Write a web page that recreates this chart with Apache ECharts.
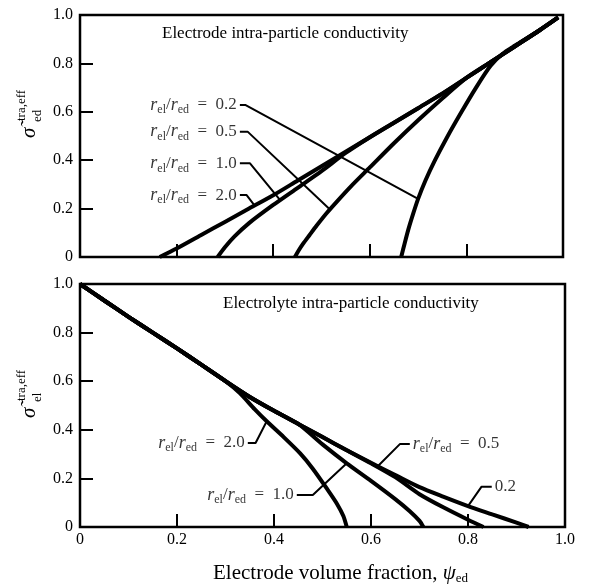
<!DOCTYPE html>
<html>
<head>
<meta charset="utf-8">
<script src="https://cdn.jsdelivr.net/npm/echarts@6/dist/echarts.min.js"></script>
<style>
  html, body { margin: 0; padding: 0; background: #fff; }
  #chart { width: 590px; height: 586px; }
</style>
</head>
<body>
<div id="chart"></div>
<script>
// x tick labels / y tick labels
const xTickLabels = ["0", "0.2", "0.4", "0.6", "0.8", "1.0"];
const yTickLabels = ["0", "0.2", "0.4", "0.6", "0.8", "1.0"];

// electrode intra-particle conductivity (top panel), [psi_ed, sigma]
const edCurve20 = [[0.165, 0], [0.2, 0.035], [0.25, 0.09], [0.3, 0.145], [0.35, 0.2], [0.4, 0.255],
  [0.45, 0.315], [0.5, 0.375], [0.55, 0.435], [0.6, 0.495], [0.65, 0.555], [0.7, 0.615],
  [0.75, 0.675], [0.8, 0.74], [0.85, 0.805], [0.9, 0.87], [0.95, 0.935], [0.99, 0.99]];
const edCurve10 = [[0.285, 0], [0.3, 0.04], [0.32, 0.085], [0.35, 0.14], [0.4, 0.215], [0.45, 0.285],
  [0.5, 0.355], [0.55, 0.43], [0.6, 0.495], [0.65, 0.555], [0.7, 0.615], [0.75, 0.675],
  [0.8, 0.74], [0.85, 0.805], [0.9, 0.87], [0.95, 0.935], [0.99, 0.99]];
const edCurve05 = [[0.445, 0], [0.452, 0.025], [0.462, 0.055], [0.475, 0.09], [0.49, 0.13], [0.51, 0.18],
  [0.53, 0.225], [0.56, 0.29], [0.6, 0.37], [0.65, 0.47], [0.7, 0.565], [0.75, 0.655],
  [0.8, 0.74], [0.85, 0.805], [0.9, 0.87], [0.95, 0.935], [0.99, 0.99]];
const edCurve02 = [[0.665, 0], [0.672, 0.055], [0.68, 0.115], [0.69, 0.18], [0.7, 0.24], [0.715, 0.315],
  [0.735, 0.4], [0.76, 0.495], [0.79, 0.6], [0.82, 0.7], [0.85, 0.79], [0.875, 0.84],
  [0.9, 0.873], [0.95, 0.935], [0.99, 0.99]];

// electrolyte intra-particle conductivity (bottom panel)
const elCurve02 = [[0, 1], [0.05, 0.932], [0.1, 0.865], [0.15, 0.8], [0.2, 0.735], [0.25, 0.668],
  [0.3, 0.6], [0.35, 0.535], [0.4, 0.478], [0.45, 0.424], [0.5, 0.37], [0.55, 0.316],
  [0.6, 0.264], [0.65, 0.214], [0.7, 0.164], [0.75, 0.124], [0.8, 0.086], [0.85, 0.052],
  [0.9, 0.018], [0.925, 0]];
const elCurve05 = [[0, 1], [0.05, 0.932], [0.1, 0.865], [0.15, 0.8], [0.2, 0.735], [0.25, 0.668],
  [0.3, 0.6], [0.35, 0.535], [0.4, 0.478], [0.45, 0.424], [0.5, 0.37], [0.55, 0.316],
  [0.6, 0.262], [0.65, 0.205], [0.7, 0.135], [0.75, 0.08], [0.8, 0.03], [0.832, 0]];
const elCurve10 = [[0, 1], [0.05, 0.932], [0.1, 0.865], [0.15, 0.8], [0.2, 0.735], [0.25, 0.668],
  [0.3, 0.6], [0.35, 0.535], [0.4, 0.478], [0.45, 0.424], [0.5, 0.34], [0.55, 0.262],
  [0.6, 0.19], [0.65, 0.115], [0.68, 0.065], [0.7, 0.025], [0.708, 0]];
const elCurve20 = [[0, 1], [0.05, 0.932], [0.1, 0.865], [0.15, 0.8], [0.2, 0.735], [0.25, 0.668],
  [0.3, 0.6], [0.33, 0.55], [0.36, 0.485], [0.385, 0.435], [0.42, 0.37], [0.454, 0.303],
  [0.48, 0.24], [0.51, 0.155], [0.53, 0.095], [0.543, 0.045], [0.55, 0]];

// leader lines: label end -> dash end -> point on curve
const edLeaders = [
  [[0.331, 0.628], [0.343, 0.628], [0.7, 0.24]],
  [[0.331, 0.518], [0.347, 0.518], [0.517, 0.197]],
  [[0.331, 0.387], [0.352, 0.387], [0.414, 0.236]],
  [[0.331, 0.256], [0.345, 0.256], [0.362, 0.211]]
];
const elLeaders = [
  [[0.346, 0.346], [0.362, 0.346], [0.385, 0.435]],
  [[0.447, 0.132], [0.48, 0.132], [0.55, 0.262]],
  [[0.68, 0.342], [0.66, 0.342], [0.614, 0.25]],
  [[0.849, 0.166], [0.828, 0.166], [0.8, 0.086]]
];
const edLabelTexts = ["0.2", "0.5", "1.0", "2.0"];
const elLabelTexts = ["2.0", "1.0", "0.5", "0.2"];
const elLabelFull = [true, true, true, false];
const elLabelSide = ["left", "left", "right", "right"];

const FONT = "'Liberation Serif', 'DejaVu Serif', serif";

const labelRich = {
  i: { fontFamily: FONT, fontStyle: "italic", fontSize: 18, lineHeight: 22, color: "#000" },
  s: { fontFamily: FONT, fontSize: 12, lineHeight: 13, verticalAlign: "bottom", color: "#000" },
  n: { fontFamily: FONT, fontSize: 17, lineHeight: 22, color: "#000" }
};

function ratioText(v, full) {
  if (!full) return "{n|" + v + "}";
  return "{i|r}{s|el}{n|/}{i|r}{s|ed}{n|  =  " + v + "}";
}

function curve(data, grid) {
  return {
    type: "line",
    xAxisIndex: grid,
    yAxisIndex: grid,
    data: data,
    showSymbol: false,
    smooth: 0.25,
    lineStyle: { color: "#000", width: 4 },
    z: 3,
    silent: true
  };
}

function leader(data, grid) {
  return {
    type: "line",
    xAxisIndex: grid,
    yAxisIndex: grid,
    data: data,
    showSymbol: false,
    lineStyle: { color: "#000", width: 2 },
    z: 2,
    silent: true
  };
}

function labels(leaders, texts, fulls, sides, grid) {
  return {
    type: "scatter",
    xAxisIndex: grid,
    yAxisIndex: grid,
    symbolSize: 0,
    silent: true,
    data: leaders.map((l, k) => ({
      value: l[0],
      label: {
        show: true,
        position: sides[k],
        distance: 3,
        formatter: ratioText(texts[k], fulls[k]),
        rich: labelRich
      }
    }))
  };
}

function yName(x, y, sub) {
  return {
    type: "group",
    x: x,
    y: y,
    rotation: Math.PI / 2,
    children: [
      { type: "text", x: 0, y: 0, style: { text: "\u03c3\u0303", font: "italic 21px " + FONT, fill: "#000" } },
      { type: "text", x: 17, y: -4, style: { text: "tra,eff", font: "13px " + FONT, fill: "#000" } },
      { type: "text", x: 16, y: 12, style: { text: sub, font: "13px " + FONT, fill: "#000" } }
    ]
  };
}

const axisLabelStyle = { color: "#000", fontFamily: FONT, fontSize: 16 };
const tickStyle = { show: true, inside: true, length: 13, lineStyle: { color: "#000", width: 2 } };

function xAxis(grid, showLabels) {
  return {
    type: "value",
    gridIndex: grid,
    min: 0,
    max: 1,
    interval: 0.2,
    axisLine: { show: false },
    axisTick: tickStyle,
    splitLine: { show: false },
    axisLabel: Object.assign({
      show: showLabels,
      margin: 5,
      formatter: (v) => xTickLabels[Math.round(v / 0.2)]
    }, axisLabelStyle)
  };
}

function yAxis(grid) {
  return {
    type: "value",
    gridIndex: grid,
    min: 0,
    max: 1,
    interval: 0.2,
    axisLine: { show: false },
    axisTick: tickStyle,
    splitLine: { show: false },
    axisLabel: Object.assign({
      margin: 7,
      formatter: (v) => yTickLabels[Math.round(v / 0.2)]
    }, axisLabelStyle)
  };
}

const chart = echarts.init(document.getElementById("chart"), null, { renderer: "canvas" });

chart.setOption({
  animation: false,
  backgroundColor: "#fff",
  grid: [
    { left: 80, top: 15, width: 483, height: 242, show: true, borderColor: "#000", borderWidth: 2.5, backgroundColor: "transparent" },
    { left: 80, top: 284, width: 485, height: 243, show: true, borderColor: "#000", borderWidth: 2.5, backgroundColor: "transparent" }
  ],
  xAxis: [xAxis(0, false), xAxis(1, true)],
  yAxis: [yAxis(0), yAxis(1)],
  graphic: [
    yName(19, 138, "ed"),
    yName(19, 418, "el"),
    { type: "text", x: 162, y: 25, style: { text: "Electrode intra-particle conductivity", font: "17px " + FONT, fill: "#000" } },
    { type: "text", x: 223, y: 295, style: { text: "Electrolyte intra-particle conductivity", font: "17px " + FONT, fill: "#000" } },
    {
      type: "text", x: 213, y: 561,
      style: {
        text: "{n|Electrode volume fraction, }{i|\u03c8}{s|ed}",
        rich: {
          n: { fontFamily: FONT, fontSize: 21, lineHeight: 24, color: "#000" },
          i: { fontFamily: FONT, fontStyle: "italic", fontSize: 21, lineHeight: 24, color: "#000" },
          s: { fontFamily: FONT, fontSize: 13, lineHeight: 14, verticalAlign: "bottom", color: "#000" }
        }
      }
    }
  ],
  series: [
    curve(edCurve20, 0), curve(edCurve10, 0), curve(edCurve05, 0), curve(edCurve02, 0),
    curve(elCurve02, 1), curve(elCurve05, 1), curve(elCurve10, 1), curve(elCurve20, 1),
    ...edLeaders.map((l) => leader(l, 0)),
    ...elLeaders.map((l) => leader(l, 1)),
    labels(edLeaders, edLabelTexts, [true, true, true, true], ["left", "left", "left", "left"], 0),
    labels(elLeaders, elLabelTexts, elLabelFull, elLabelSide, 1)
  ]
});
</script>
</body>
</html>
